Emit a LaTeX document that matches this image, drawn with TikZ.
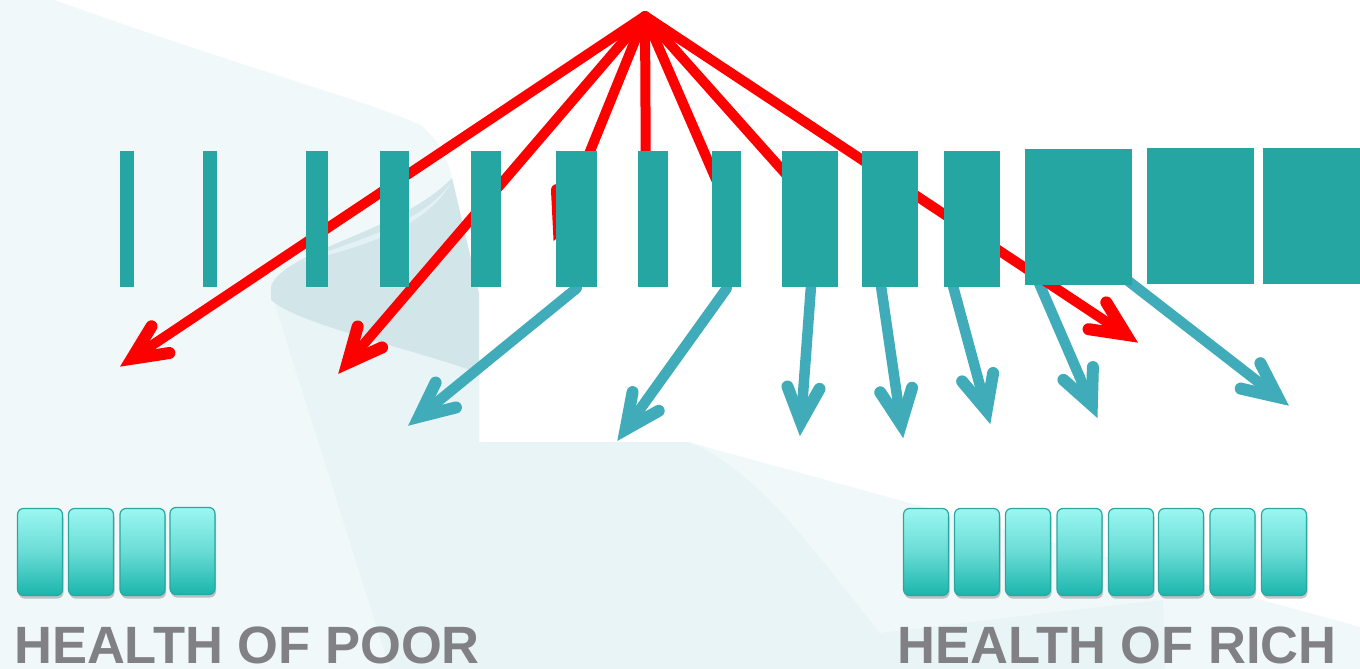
\documentclass[tikz,border=0pt]{standalone}
\usepackage{fontspec}
\setmainfont{Liberation Sans}
\usetikzlibrary{calc,shadows}
\definecolor{barteal}{RGB}{38,166,162}
\definecolor{arrteal}{RGB}{64,172,185}
\definecolor{bgA}{RGB}{241,248,250}
\definecolor{bgB}{RGB}{232,244,245}
\definecolor{bgD}{RGB}{210,230,234}
\definecolor{bgL}{RGB}{228,241,244}
\definecolor{boxtop}{RGB}{155,247,241}
\definecolor{boxmid}{RGB}{105,220,213}
\definecolor{boxbot}{RGB}{26,181,172}
\definecolor{boxedge}{RGB}{40,168,160}
\definecolor{txtgray}{RGB}{128,128,133}
\newcommand\myarrow[4]{%
  \coordinate (#4v) at ($(#3)!13pt!(#2)$);
  \draw[#1] (#2) -- (#4v);
  \draw[#1, line width=12pt] ($(#4v)!38pt!25:(#2)$) -- (#4v) -- ($(#4v)!38pt!-25:(#2)$);
}
\begin{document}
\begin{tikzpicture}[x=1pt,y=-1pt,
  redarr/.style={draw=red, line width=10pt, line cap=round, line join=miter,
    preaction={draw=black, opacity=0.12, transform canvas={shift={(2pt,-2.5pt)}}}},
  redline/.style={draw=red, line width=10pt, line cap=butt,
    preaction={draw=black, opacity=0.12, transform canvas={shift={(2pt,-2.5pt)}}}},
  tealarr/.style={draw=arrteal, line width=10.5pt, line cap=round, line join=miter,
    preaction={draw=black, opacity=0.12, transform canvas={shift={(2pt,-2.5pt)}}}},
  barbox/.style={fill=barteal, inner sep=0pt, outer sep=0pt, minimum height=136pt},
  hbox/.style={rounded corners=6pt, draw=boxedge, line width=1.2pt,
    top color=boxtop, bottom color=boxbot, middle color=boxmid,
    minimum width=45pt, minimum height=87pt, inner sep=0pt,
    drop shadow={shadow xshift=1pt, shadow yshift=-3pt, opacity=0.22, fill=black}},
  lbl/.style={font=\fontsize{52.5}{60}\selectfont\bfseries, text=txtgray, inner sep=0pt}
]
\useasboundingbox (0,0) rectangle (1360,669);
\fill[white] (0,0) rectangle (1360,669);
% background swoosh
\fill[bgA] (0,0) -- (54,0) .. controls (250,70) and (380,105) .. (420,125)
  .. controls (440,140) and (448,160) .. (452,178) -- (479,293) -- (479,442)
  -- (688,442) -- (1360,627) -- (1360,669) -- (0,669) -- cycle;
\fill[bgB] (271,292) -- (390,669) -- (1165,669) -- (1163,600)
  .. controls (1050,612) and (950,625) .. (880,633)
  .. controls (820,560) and (760,470) .. (688,442)
  -- (479,442) -- (479,373) -- cycle;
\fill[bgD] (271,286) .. controls (285,250) and (400,232) .. (452,178)
  -- (479,293) -- (479,373) .. controls (400,345) and (300,325) .. (271,300) -- cycle;
\fill[bgL] (300,262) .. controls (360,248) and (425,228) .. (451,183)
  .. controls (420,225) and (360,238) .. (300,262) -- cycle;
% coordinates
\coordinate (apex) at (645,16);
\coordinate (r1) at (121,366);
\coordinate (r2) at (339,373);
\coordinate (r3) at (554,240);
\coordinate (r4) at (646,200);
\coordinate (r5) at (725,200);
\coordinate (r6) at (800,190);
\coordinate (r7) at (1137,342);
\coordinate (t1s) at (577,288); \coordinate (t1) at (409,425);
\coordinate (t2s) at (727,288); \coordinate (t2) at (618,440);
\coordinate (t3s) at (811,286); \coordinate (t3) at (800,435);
\coordinate (t4s) at (881,286); \coordinate (t4) at (903,437);
\coordinate (t5s) at (953,286); \coordinate (t5) at (990,423);
\coordinate (t6s) at (1039,283); \coordinate (t6) at (1097,417);
\coordinate (t7s) at (1127,280); \coordinate (t7) at (1288,405);
% teal arrows
\myarrow{tealarr}{t1s}{t1}{ta}
\myarrow{tealarr}{t2s}{t2}{tb}
\myarrow{tealarr}{t3s}{t3}{tc}
\myarrow{tealarr}{t4s}{t4}{td}
\myarrow{tealarr}{t5s}{t5}{te}
\myarrow{tealarr}{t6s}{t6}{tf}
\myarrow{tealarr}{t7s}{t7}{tg}
% red arrows
\draw[redline] (apex) -- (r4);
\draw[redline] (apex) -- (r5);
\draw[redline] (apex) -- (r6);
\myarrow{redarr}{apex}{r3}{rc}
\myarrow{redarr}{apex}{r2}{rb}
\myarrow{redarr}{apex}{r1}{ra}
\myarrow{redarr}{apex}{r7}{rg}
% bars
\node[barbox, minimum width=14pt] (b1) at (127,219) {};
\node[barbox, minimum width=14pt] (b2) at (210,219) {};
\node[barbox, minimum width=22pt] (b3) at (317,219) {};
\node[barbox, minimum width=29pt] (b4) at (394.5,219) {};
\node[barbox, minimum width=30pt] (b5) at (486,219) {};
\node[barbox, minimum width=41pt] (b6) at (576.5,219) {};
\node[barbox, minimum width=30pt] (b7) at (653,219) {};
\node[barbox, minimum width=29pt] (b8) at (726.5,219) {};
\node[barbox, minimum width=56pt] (b9) at (810,219) {};
\node[barbox, minimum width=56pt] (b10) at (890,219) {};
\node[barbox, minimum width=56pt] (b11) at (972,219) {};
\node[barbox, minimum width=107pt] (b12) at (1078.5,217) {};
\node[barbox, minimum width=107pt] (b13) at (1200.5,216) {};
\node[barbox, minimum width=97pt] (b14) at (1311.5,216) {};
% health boxes
\node[hbox] (p1) at (40,552) {};
\node[hbox] (p2) at (91,552) {};
\node[hbox] (p3) at (142.5,552) {};
\node[hbox] (p4) at (192.5,551) {};
\node[hbox] (q1) at (926,552) {};
\node[hbox] (q2) at (977,552) {};
\node[hbox] (q3) at (1028,552) {};
\node[hbox] (q4) at (1079.5,552) {};
\node[hbox] (q5) at (1131,552) {};
\node[hbox] (q6) at (1181,552) {};
\node[hbox] (q7) at (1232.5,552) {};
\node[hbox] (q8) at (1284,552) {};
% labels
\node[lbl, anchor=base] (poor) at (247,663.5) {HEALTH OF POOR};
\node[lbl, anchor=base] (rich) at (1117,663.5) {HEALTH OF RICH};
\end{tikzpicture}
\end{document}
